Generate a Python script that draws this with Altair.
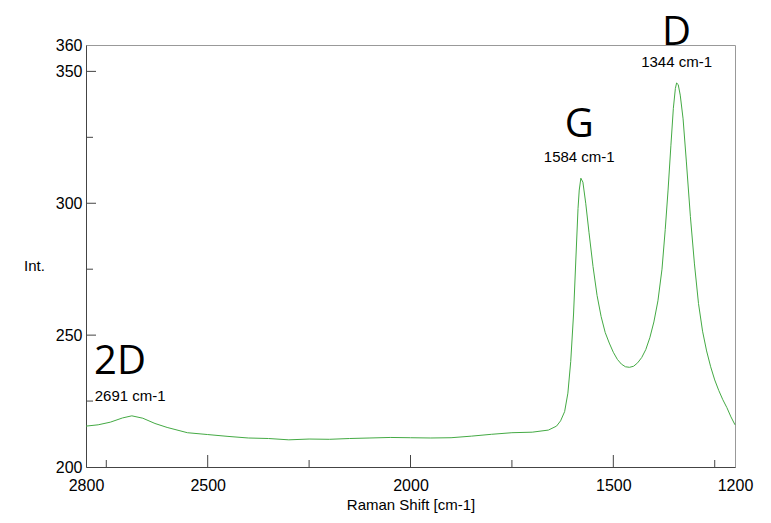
import pandas as pd
import altair as alt

shift = [2800, 2770, 2740, 2710, 2687, 2660, 2630, 2600, 2550, 2500, 2450, 2400, 2350,
         2300, 2250, 2200, 2150, 2100, 2050, 2000, 1950, 1900, 1850, 1800, 1750, 1700,
         1660, 1640, 1630, 1620, 1612, 1605, 1598, 1592, 1587, 1584, 1580, 1575, 1568,
         1560, 1550, 1540, 1530, 1520, 1510, 1500, 1490, 1480, 1470, 1460, 1450, 1440,
         1430, 1420, 1410, 1400, 1390, 1380, 1372, 1365, 1358, 1352, 1347, 1344, 1340,
         1335, 1328, 1320, 1310, 1300, 1290, 1280, 1270, 1260, 1250, 1240, 1230, 1220,
         1210, 1200]
intensity = [215.5, 216.0, 217.0, 218.6, 219.4, 218.5, 216.5, 215.0, 213.0, 212.3,
             211.6, 211.0, 210.8, 210.3, 210.6, 210.5, 210.8, 211.0, 211.2, 211.1, 211.0,
             211.1, 211.7, 212.4, 213.0, 213.2, 214.0, 215.5, 217.5, 221.0, 228.0,
             240.0, 258.0, 280.0, 298.0, 305.0, 309.5, 308.0, 300.0, 289.0, 276.0, 265.0,
             257.0, 251.0, 247.0, 243.5, 240.8, 239.0, 238.0, 237.8, 238.2, 239.5, 241.5,
             244.5, 249.0, 255.0, 263.0, 275.0, 290.0, 305.0, 322.0, 336.0, 343.5, 345.6,
             345.0, 341.0, 332.0, 316.0, 295.0, 277.0, 262.0, 251.5, 244.0, 238.0, 233.0,
             229.0, 225.5, 222.5, 219.0, 216.0]

peak_names = ["D", "G", "2D"]
peak_pos = [1344, 1584, 2716]
peak_name_y = [364.5, 329.7, 239.8]
peak_labels = ["1344 cm-1", "1584 cm-1", "2691 cm-1"]
peak_label_x = [1344, 1584, 2691]
peak_label_y = [353.5, 317.5, 227.0]

x_major = [2800, 2500, 2000, 1500, 1200]
x_minor = [2750, 2250, 1750, 1250]
y_major = [250, 300, 350]
y_minor = [225, 275, 325]

df = pd.DataFrame({"shift": shift, "int": intensity})
names = pd.DataFrame({"x": peak_pos, "y": peak_name_y, "t": peak_names})
labels = pd.DataFrame({"x": peak_label_x, "y": peak_label_y, "t": peak_labels})

xs = alt.Scale(domain=[2800, 1200], nice=False)
ys = alt.Scale(domain=[200, 360], nice=False)

line = alt.Chart(df).mark_line(color="#44aa44", strokeWidth=1).encode(
    x=alt.X("shift:Q", scale=xs, title="Raman Shift [cm-1]",
            axis=alt.Axis(values=x_major, format="d", ticks=False, grid=False,
                          labelFlush=False, labelFontSize=16, labelColor="black",
                          titleFontSize=15, titleFontWeight="normal", titleColor="black",
                          labelPadding=10, titlePadding=4, domainColor="#444",
                          labelFont="Liberation Sans", titleFont="Liberation Sans")),
    y=alt.Y("int:Q", scale=ys, title="Int.",
            axis=alt.Axis(values=[200, 250, 300, 350, 360], format="d", ticks=False,
                          grid=False, labelFlush=False, labelFontSize=16,
                          labelColor="black", titleFontSize=15, titleFontWeight="normal",
                          titleColor="black", titleAngle=0, titleX=-52, titleY=228,
                          titleAlign="center", labelPadding=4, domainColor="#444",
                          labelFont="Liberation Sans", titleFont="Liberation Sans")),
)

xt_major = alt.Chart(pd.DataFrame({"v": x_major[1:-1]})).mark_rule(color="#444").encode(
    x=alt.X("v:Q", scale=xs), y=alt.value(422), y2=alt.value(410))
xt_minor = alt.Chart(pd.DataFrame({"v": x_minor})).mark_rule(color="#444").encode(
    x=alt.X("v:Q", scale=xs), y=alt.value(422), y2=alt.value(415))
yt_major = alt.Chart(pd.DataFrame({"v": y_major})).mark_rule(color="#444").encode(
    y=alt.Y("v:Q", scale=ys), x=alt.value(0), x2=alt.value(10))
yt_minor = alt.Chart(pd.DataFrame({"v": y_minor})).mark_rule(color="#444").encode(
    y=alt.Y("v:Q", scale=ys), x=alt.value(0), x2=alt.value(7))

big = alt.Chart(names).mark_text(fontSize=40, font="Open Sans", clip=False,
                                 color="black").encode(
    x=alt.X("x:Q", scale=xs), y=alt.Y("y:Q", scale=ys), text="t:N")
small = alt.Chart(labels).mark_text(fontSize=15, font="Liberation Sans",
                                    color="black").encode(
    x=alt.X("x:Q", scale=xs), y=alt.Y("y:Q", scale=ys), text="t:N")

chart = alt.layer(line, xt_major, xt_minor, yt_major, yt_minor, big, small).properties(
    width=649, height=422, autosize="none",
    padding={"left": 78, "top": 37, "right": 20, "bottom": 50},
).configure_view(stroke="#999")

chart.save("out.html", embed_options={"renderer": "svg", "actions": False})
